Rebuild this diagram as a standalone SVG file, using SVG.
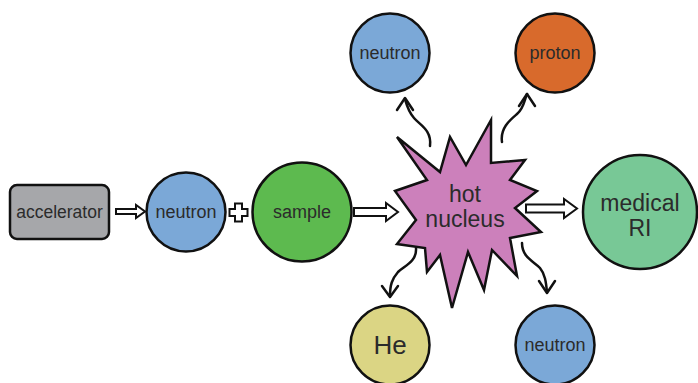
<svg xmlns="http://www.w3.org/2000/svg" width="698" height="383" viewBox="0 0 698 383">
<style>
.n{stroke:#111;stroke-width:2.5}
.t{font-family:"Liberation Sans",Arial,sans-serif;fill:#2b2b2b;text-anchor:middle}
.ha{fill:#fff;stroke:#111;stroke-width:2;stroke-linejoin:miter}
.w{fill:none;stroke:#111;stroke-width:2.5;stroke-linecap:round;stroke-linejoin:round}
</style>
<rect width="698" height="383" fill="#fff"/>
<g id="connectors">
<path class="ha" d="M116,209 L136,209 L136,205 L145,211.5 L136,218 L136,214 L116,214 Z"/>
<path class="ha" d="M354,208 L386,208 L386,203 L398,212 L386,221 L386,216 L354,216 Z"/>
<path class="ha" d="M526,204.5 L564,204.5 L564,199 L577,208.5 L564,218 L564,212.5 L526,212.5 Z"/>
<path class="ha" stroke-width="3" d="M235,203.5 L242,203.5 L242,209 L247.5,209 L247.5,216 L242,216 L242,221.5 L235,221.5 L235,216 L229.5,216 L229.5,209 L235,209 Z"/>
<path class="w" d="M430,146 C432,130 420,125 414,118 C408,111 407,106 405,99"/>
<path class="w" d="M397,110 L405,98 L413,110"/>
<path class="w" d="M502,142 C500,128 510,120 517,114 C524,108 524,101 527,94"/>
<path class="w" d="M519,106 L527,94 L535,106"/>
<path class="w" d="M416,248 C417,262 404,266 398,272 C392,279 390,285 390,296"/>
<path class="w" d="M382,286 L390,297 L398,286"/>
<path class="w" d="M522,243 C522,258 535,262 540,268 C545,274 546,282 547,292"/>
<path class="w" d="M539,281 L547,293 L555,281"/>
</g>
<g id="accelerator">
<rect class="n" x="10" y="185" width="99" height="54" rx="7" fill="#a6a7aa"/>
<text class="t" x="59.5" y="218" font-size="17.5">accelerator</text>
</g>
<g id="neutron-in">
<circle class="n" cx="186" cy="212" r="39.5" fill="#7ba8d7"/>
<text class="t" x="186" y="218" font-size="18">neutron</text>
</g>
<g id="sample">
<circle class="n" cx="302" cy="212" r="49.5" fill="#5dba4f"/>
<text class="t" x="302" y="218" font-size="18">sample</text>
</g>
<g id="hot-nucleus">
<polygon class="n" fill="#cc80bb" stroke-linejoin="miter" points="397,137 440,172 450,137 466,165 491,120 491,163 525,160 510,180 537,191 515,208 541,232 510,238 517,276 492,250 484,290 468,252 452,308 440,255 427,272 425,248 397,244 416,220 395,191 427,180"/>
<text class="t" x="465" y="202" font-size="23">hot</text>
<text class="t" x="465" y="227" font-size="23">nucleus</text>
</g>
<g id="neutron-top">
<circle class="n" cx="390" cy="53" r="39.5" fill="#7ba8d7"/>
<text class="t" x="390" y="59" font-size="18">neutron</text>
</g>
<g id="proton">
<circle class="n" cx="555" cy="53" r="39.5" fill="#d86a2c"/>
<text class="t" x="555" y="59" font-size="18">proton</text>
</g>
<g id="he">
<circle class="n" cx="390" cy="345" r="39.5" fill="#dbd584"/>
<text class="t" x="390" y="354" font-size="26">He</text>
</g>
<g id="neutron-bottom">
<circle class="n" cx="555" cy="345" r="39.5" fill="#7ba8d7"/>
<text class="t" x="555" y="351" font-size="18">neutron</text>
</g>
<g id="medical-ri">
<circle class="n" cx="640" cy="212" r="57" fill="#78c896"/>
<text class="t" x="640" y="211" font-size="23">medical</text>
<text class="t" x="640" y="236" font-size="23">RI</text>
</g>
</svg>
